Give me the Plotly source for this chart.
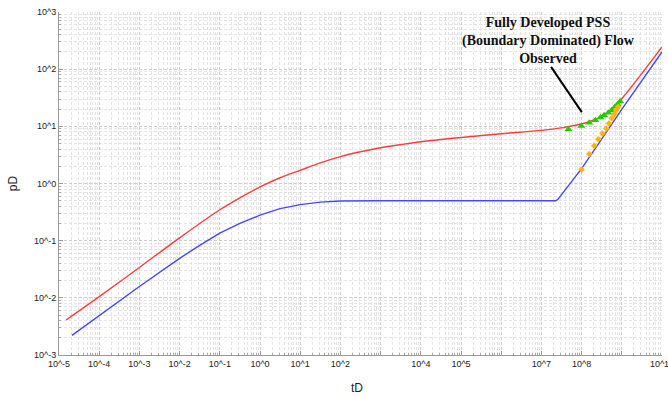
import plotly.graph_objects as go

# Dimensionless type curves (log-log)
red_t = [1.5e-5, 1e-4, 1e-3, 1e-2, 1e-1, 0.316, 1.0, 3.16, 1e1, 31.6, 1e2, 316.0, 1e3,
         3162.0, 1e4, 31623.0, 1e5, 1e6, 1e7, 3.5e7, 1.1e8, 2e8, 4.2e8, 6.3e8, 1.1e9,
         2.3e9, 1e10]
red_p = [0.0041, 0.0105, 0.034, 0.112, 0.347, 0.562, 0.871, 1.26, 1.70, 2.29, 2.95, 3.59,
         4.22, 4.79, 5.37, 5.89, 6.38, 7.41, 8.51, 9.5, 11.2, 12.9, 16.6, 21.4, 33.0,
         63.0, 245.0]

blue_t = [2.1e-5, 1e-4, 1e-3, 1e-2, 0.0316, 0.1, 0.316, 1.0, 3.16, 1e1, 31.6, 1e2, 316.0,
          1e3, 1e4, 1e5, 1e6, 1e7, 2.3e7, 2.6e7, 2.9e7, 1e8, 3.5e8, 1.1e9, 1e10]
blue_p = [0.0022, 0.0049, 0.0158, 0.049, 0.083, 0.135, 0.20, 0.279, 0.363, 0.427, 0.473,
          0.495, 0.50, 0.50, 0.50, 0.50, 0.50, 0.50, 0.50, 0.53, 0.59, 1.82, 6.6, 21.9, 200.0]

# Observed production data
green_t = [4.7e7, 9.8e7, 1.55e8, 2.2e8, 2.95e8, 3.6e8, 4.6e8, 5.6e8, 6.8e8, 7.9e8, 9.1e8]
green_p = [8.9, 10.1, 11.5, 12.8, 14.3, 15.7, 17.2, 19.2, 21.9, 24.4, 27.5]

orange_t = [1.0e8, 1.55e8, 2.05e8, 2.6e8, 3.3e8, 4.1e8, 4.8e8, 5.6e8, 6.5e8, 7.2e8, 8.1e8]
orange_p = [1.76, 3.27, 4.56, 5.97, 7.5, 9.2, 11.2, 13.8, 16.2, 19.1, 21.9]

x_tickvals = [10.0 ** k for k in range(-5, 11)]
x_ticktext = ["10^-5", "10^-4", "10^-3", "10^-2", "10^-1", "10^0", "10^1", "10^2", "",
              "10^4", "10^5", "", "10^7", "10^8", "", "10^10"]
y_tickvals = [10.0 ** k for k in range(-3, 4)]
y_ticktext = ["10^-3", "10^-2", "10^-1", "10^0", "10^1", "10^2", "10^3"]

fig = go.Figure()
fig.add_trace(go.Scatter(x=red_t, y=red_p, mode="lines",
                         line=dict(color="#ff3c3c", width=1.4, shape="spline", smoothing=0.8)))
fig.add_trace(go.Scatter(x=blue_t, y=blue_p, mode="lines",
                         line=dict(color="#4646ff", width=1.4)))
fig.add_trace(go.Scatter(x=green_t, y=green_p, mode="markers",
                         marker=dict(symbol="triangle-up", size=7, color="#22cc00")))
fig.add_trace(go.Scatter(x=orange_t, y=orange_p, mode="markers",
                         marker=dict(symbol="diamond", size=5, color="#ffb400")))

grid_major = "#cdcdcd"
grid_minor = "#e4e4e4"

axis_common = dict(
    type="log",
    automargin=False,
    showline=True, linecolor="#9a9a9a", linewidth=1,
    ticks="inside", ticklen=4, tickcolor="#9a9a9a",
    showgrid=True, gridcolor=grid_major, griddash="3px,2px", gridwidth=1,
    tickfont=dict(family="Liberation Sans, Arial, sans-serif", size=9, color="#222222"),
    tickmode="array",
    ticklabeloverflow="allow",
    minor=dict(dtick="D1", showgrid=True, gridcolor=grid_minor, griddash="3px,2px",
               ticks="inside", ticklen=2, tickcolor="#aaaaaa"),
    zeroline=False,
)

fig.update_xaxes(**axis_common, range=[-5, 10], tickvals=x_tickvals, ticktext=x_ticktext)
fig.update_yaxes(**axis_common, range=[-3, 3], tickvals=y_tickvals, ticktext=y_ticktext)

fig.update_layout(
    width=668, height=396,
    margin=dict(l=59, r=6, t=12, b=41, autoexpand=False),
    paper_bgcolor="white", plot_bgcolor="white",
    showlegend=False,
    annotations=[
        dict(text="tD", xref="paper", yref="paper", x=0.494, y=0, yshift=-33,
             showarrow=False, xanchor="center", yanchor="middle",
             font=dict(family="Liberation Sans, Arial, sans-serif", size=12, color="#222222")),
        dict(text="pD", xref="paper", yref="paper", x=-0.0763, y=0.501, textangle=-90,
             showarrow=False, xanchor="center", yanchor="middle",
             font=dict(family="Liberation Sans, Arial, sans-serif", size=12, color="#222222")),
        dict(text="<b>Fully Developed PSS<br>(Boundary Dominated) Flow<br>Observed</b>",
             xref="paper", yref="paper", x=0.811, y=0.918,
             showarrow=False, xanchor="center", yanchor="middle", align="center",
             font=dict(family="Liberation Serif, Times New Roman, serif", size=14, color="#111111")),
    ],
    shapes=[
        dict(type="line", xref="paper", yref="paper", x0=0.816, y0=0.840, x1=0.867, y1=0.708,
             line=dict(color="black", width=2)),
    ],
)

fig.write_html("out.html")
